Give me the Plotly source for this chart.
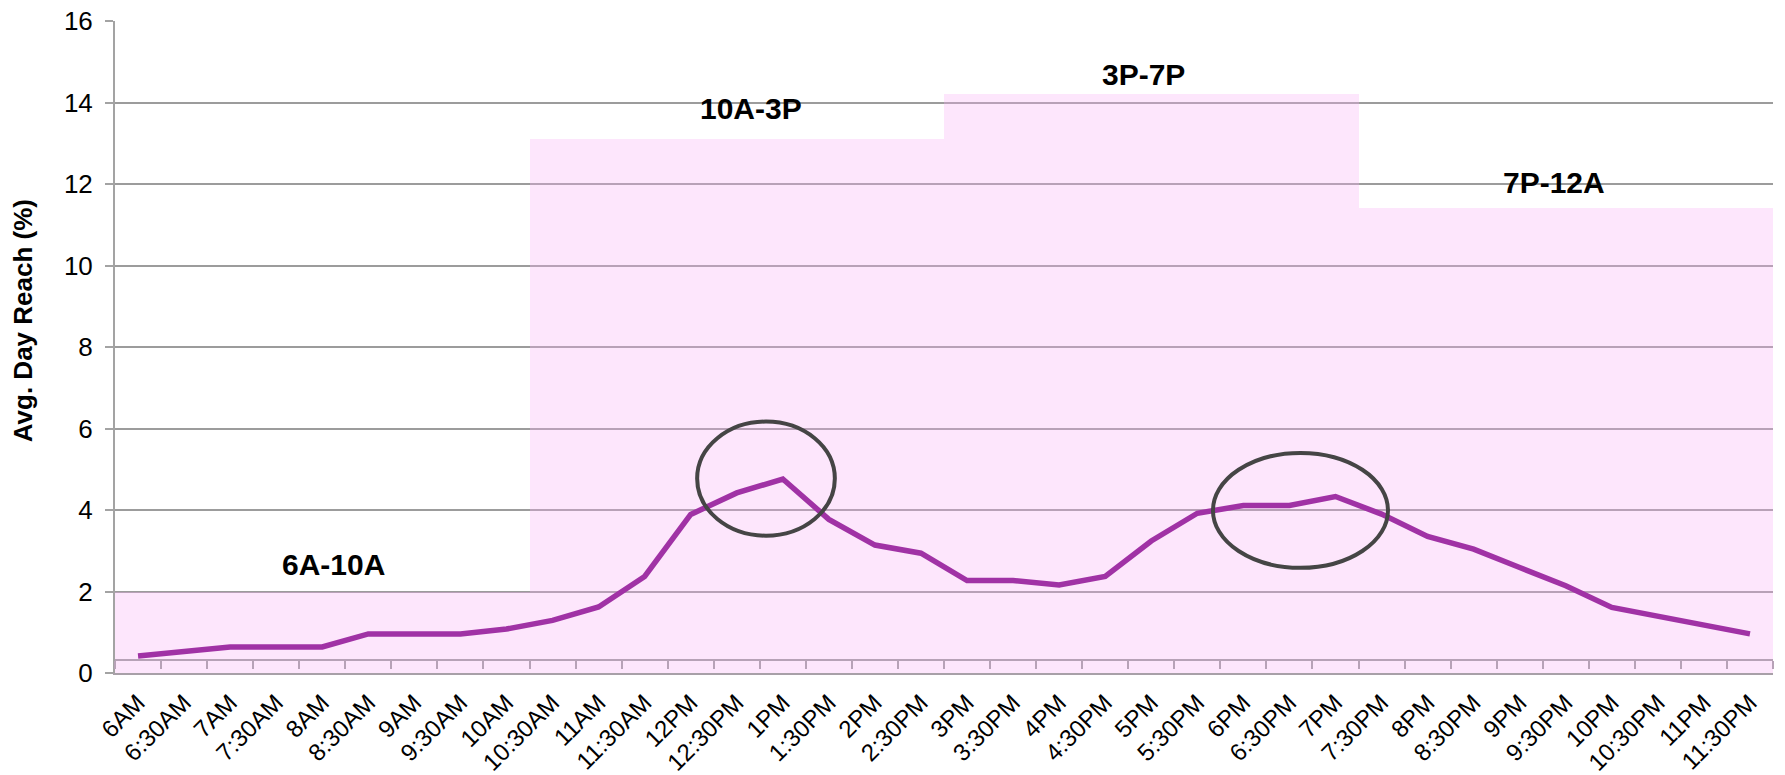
import plotly.graph_objects as go

# Half-hour slots from 6AM to 11:30PM
categories = [
    "6AM", "6:30AM", "7AM", "7:30AM", "8AM", "8:30AM", "9AM", "9:30AM", "10AM",
    "10:30AM", "11AM", "11:30AM", "12PM", "12:30PM", "1PM", "1:30PM", "2PM", "2:30PM",
    "3PM", "3:30PM", "4PM", "4:30PM", "5PM", "5:30PM", "6PM", "6:30PM", "7PM",
    "7:30PM", "8PM", "8:30PM", "9PM", "9:30PM", "10PM", "10:30PM", "11PM", "11:30PM",
]

# Average day reach (%) per half-hour slot
reach = [
    0.42, 0.53, 0.64, 0.64, 0.64, 0.96, 0.96, 0.96, 1.08,
    1.29, 1.62, 2.37, 3.89, 4.42, 4.76, 3.77, 3.14, 2.94,
    2.27, 2.27, 2.16, 2.37, 3.24, 3.92, 4.11, 4.11, 4.33,
    3.90, 3.35, 3.04, 2.59, 2.14, 1.61, 1.39, 1.18, 0.96,
]

# Dayparts: name, first slot, last slot, daypart reach (%)
daypart_names = ["6A-10A", "10A-3P", "3P-7P", "7P-12A"]
daypart_first = ["6AM", "10:30AM", "3PM", "7:30PM"]
daypart_last = ["10AM", "2:30PM", "7PM", "11:30PM"]
daypart_reach = [2.0, 13.1, 14.2, 11.4]

y_title = "Avg. Day Reach (%)"

FONT = "Liberation Sans, Arial, sans-serif"
GRID = "#9C9C9C"
AXIS = "#A3A3A3"
INNER = "#B7A2B7"

idx = {c: i for i, c in enumerate(categories)}
slot_x = list(range(len(categories)))

bar_x = [(idx[a] + idx[b]) / 2 for a, b in zip(daypart_first, daypart_last)]
bar_w = [idx[b] - idx[a] + 1 for a, b in zip(daypart_first, daypart_last)]

fig = go.Figure()

fig.add_trace(go.Bar(
    x=bar_x, y=daypart_reach, width=bar_w,
    marker=dict(color="rgba(248,172,245,0.30)", line=dict(width=0)),
    hoverinfo="skip", showlegend=False,
))

fig.add_trace(go.Scatter(
    x=slot_x, y=reach, mode="lines",
    line=dict(color="#A032A5", width=5.5),
    showlegend=False,
))

# empty trace so the inner category-boundary axis gets drawn
fig.add_trace(go.Scatter(x=[], y=[], xaxis="x2", showlegend=False, hoverinfo="skip"))

# daypart labels above each block (xshift, yshift in px)
label_shift = [(11, 27), (14, 31), (-8, 20), (-12, 26)]
for name, cx, h, (dx, dy) in zip(daypart_names, bar_x, daypart_reach, label_shift):
    fig.add_annotation(
        x=cx, y=h, text="<b>%s</b>" % name, showarrow=False,
        xshift=dx, yshift=dy, yanchor="middle",
        font=dict(family=FONT, size=30, color="#000000"),
    )

# y-axis title
fig.add_annotation(
    xref="paper", yref="paper", x=-0.0555, y=0.541,
    text="<b>%s</b>" % y_title, textangle=-90, showarrow=False,
    xanchor="center", yanchor="middle",
    font=dict(family=FONT, size=26, color="#000000"),
)

# highlight ellipses around the peaks
ellipse_box = [(12.14, 15.13, 3.37, 6.17), (23.34, 27.14, 2.58, 5.40)]
for x0, x1, y0, y1 in ellipse_box:
    fig.add_shape(type="circle", xref="x", yref="y", x0=x0, x1=x1, y0=y0, y1=y1,
                  line=dict(color="#454545", width=4), layer="above")

ymax = 16
boundaries = [i - 0.5 for i in range(len(categories) + 1)]

fig.update_layout(
    width=1785, height=775,
    margin=dict(l=115, r=12, t=21, b=102),
    paper_bgcolor="white", plot_bgcolor="white",
    font=dict(family=FONT, color="#000000"),
    bargap=0,
    xaxis=dict(
        range=[-0.5, len(categories) - 0.5],
        tickmode="array", tickvals=slot_x, ticktext=categories,
        tickangle=-45, tickfont=dict(size=24, color="#000000"),
        showgrid=False, zeroline=False, automargin=False,
        showline=True, linecolor="#A8A0A8", linewidth=2,
        ticks="", ticklabelstandoff=4,
    ),
    xaxis2=dict(
        overlaying="x", anchor="free", position=0.33 / ymax, side="bottom",
        range=[-0.5, len(categories) - 0.5],
        tickmode="array", tickvals=boundaries, showticklabels=False,
        ticks="outside", ticklen=8, tickwidth=2, tickcolor=INNER,
        showline=True, linecolor=INNER, linewidth=2,
        showgrid=False, zeroline=False,
    ),
    yaxis=dict(
        range=[0, ymax], dtick=2, tick0=0,
        tickfont=dict(size=26, color="#000000"),
        showgrid=True, gridcolor=GRID, gridwidth=2,
        zeroline=False, automargin=False,
        showline=True, linecolor=AXIS, linewidth=2,
        ticks="outside", ticklen=8, tickwidth=2, tickcolor=AXIS,
        ticklabelstandoff=7,
    ),
)

fig.write_html("out.html")
